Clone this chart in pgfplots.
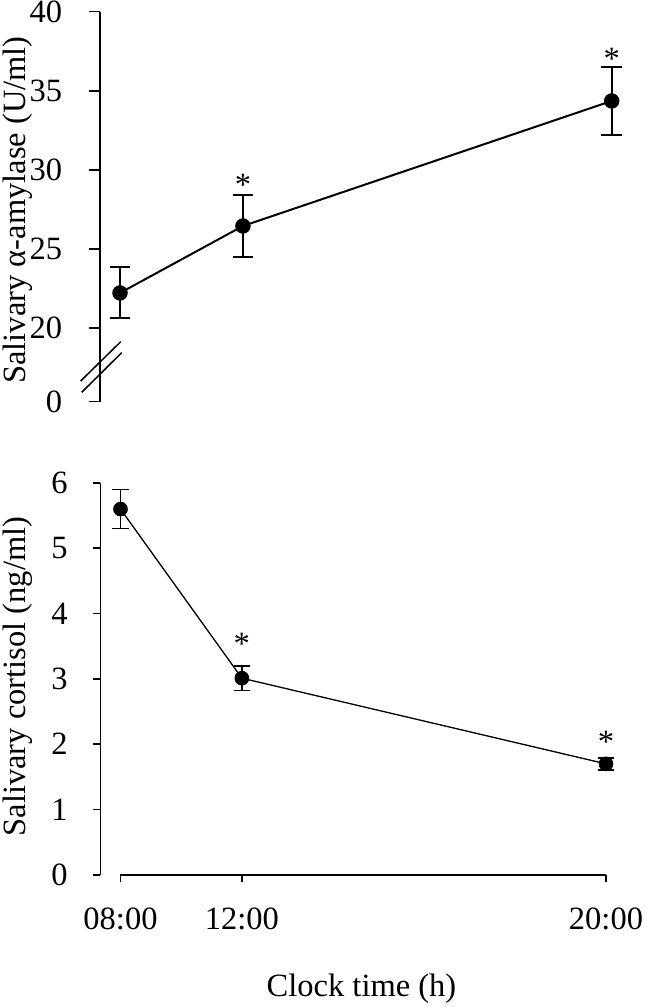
\documentclass[border=0pt]{standalone}
\usepackage{fontspec}
\setmainfont{Liberation Serif}
\usepackage{pgfplots}
\pgfplotsset{compat=1.18}
\begin{document}
\fontsize{32.5}{39}\selectfont
\begin{tikzpicture}[x=1pt,y=1pt]
\path[use as bounding box] (0,0) rectangle (647,1007);
% ---------- top panel: alpha-amylase ----------
\begin{axis}[
  at={(100.3pt,605.3pt)}, anchor=south west,
  scale only axis, width=511.4pt, height=390pt,
  xmin=-0.1603, xmax=4, ymin=15.36, ymax=40,
  axis x line=none, axis y line*=left,
  ytick={15.36,20,25,30,35,40}, yticklabels={0,20,25,30,35,40},
  tick align=outside, major tick length=11pt,
  axis line style={line width=1.6pt}, ytick style={line width=1.6pt, black},
  clip=false,
  tick label style={font=\fontsize{32.5}{39}\selectfont},
  yticklabel style={anchor=east, inner sep=0pt, xshift=-27pt},
]
\addplot[black, line width=2pt, mark=*, mark size=7.4pt, mark options={line width=0.6pt},
  error bars/.cd, y dir=both, y explicit,
  error bar style={line width=2pt},
  error mark options={rotate=90, mark size=10.3pt, line width=2pt}]
  coordinates {(0,22.23) +- (0,1.61) (1,26.46) +- (0,1.95) (4,34.36) +- (0,2.13)};
\node[anchor=base, inner sep=0pt] at (axis cs:1,28.40) {*};
\node[anchor=base, inner sep=0pt] at (axis cs:4,36.36) {*};
\end{axis}
\draw[line width=1.5pt] (80.7,626) -- (120.7,665.3);
\draw[line width=1.5pt] (81.7,614.7) -- (121.7,654.3);
\node[rotate=90, anchor=base, inner sep=0pt] at (25,797) {Salivary α-amylase (U/ml)};
% ---------- bottom panel: cortisol ----------
\begin{axis}[
  at={(100.3pt,132pt)}, anchor=south west,
  scale only axis, width=505.7pt, height=392.3pt,
  xmin=-0.1664, xmax=4, ymin=0, ymax=6,
  axis x line*=bottom, axis y line*=left,
  x axis line style={draw=none},
  xtick={0,1,4}, xticklabels={08:00,12:00,20:00},
  ytick={0,1,2,3,4,5,6}, yticklabels={0,1,2,3,4,5,6},
  tick align=outside, major tick length=7.5pt,
  y axis line style={line width=1.6pt},
  tick style={line width=1.6pt, black},
  clip=false,
  tick label style={font=\fontsize{32.5}{39}\selectfont},
  yticklabel style={anchor=east, inner sep=0pt, xshift=-25pt},
  xticklabel style={anchor=north, inner sep=0pt, yshift=-25.5pt},
]
\draw[line width=1.6pt] (axis cs:0,0) -- (axis cs:4,0);
\addplot[black, line width=1.3pt, mark=*, mark size=7pt, mark options={line width=0.6pt},
  error bars/.cd, y dir=both, y explicit,
  error bar style={line width=1.6pt},
  error mark options={rotate=90, mark size=8.3pt, line width=1.6pt}]
  coordinates {(0,5.597) +- (0,0.30) (1,3.01) +- (0,0.19) (4,1.70) +- (0,0.09)};
\node[anchor=base, inner sep=0pt] at (axis cs:1,3.38) {*};
\node[anchor=base, inner sep=0pt] at (axis cs:4,1.88) {*};
\end{axis}
\node[rotate=90, anchor=base, inner sep=0pt] at (25,330.5) {Salivary cortisol (ng/ml)};
\node[anchor=base, inner sep=0pt] at (361.5,10) {Clock time (h)};
\end{tikzpicture}
\end{document}
